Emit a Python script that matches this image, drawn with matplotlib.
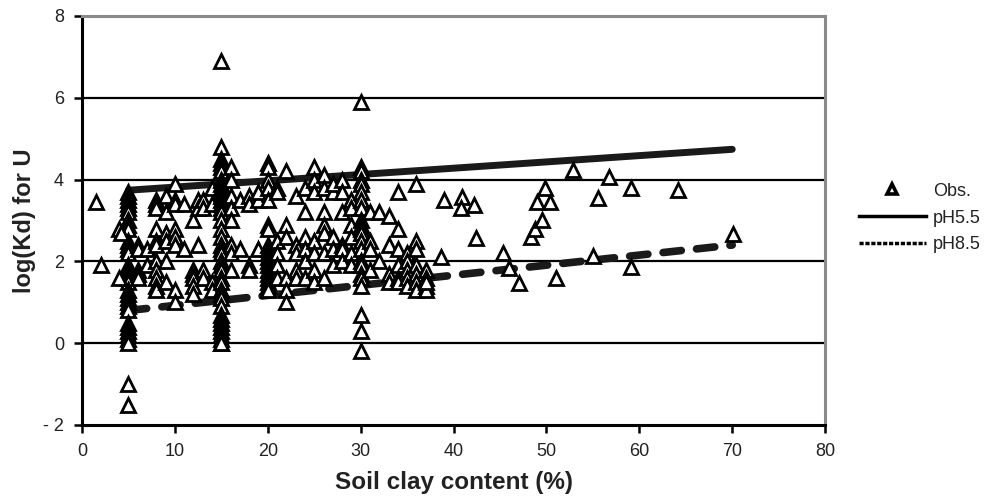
import numpy as np
import matplotlib.pyplot as plt
from matplotlib.lines import Line2D

plt.rcParams['font.family'] = ['Liberation Sans', 'DejaVu Sans']

# observed soil clay content (%) and log(Kd) for U
clay = [1.5, 2,
        5, 5, 5, 5, 5, 5, 5, 5, 5, 5, 5, 5, 5, 5, 5, 5, 5, 5, 5, 5, 5, 5, 5, 5, 5, 5, 5, 5, 5, 5, 5, 5,
        4, 4.2, 4, 6, 6, 6, 6, 6, 7, 7,
        8, 8, 8, 8, 8, 8, 8, 8, 8, 8, 8,
        9, 9, 9, 9, 9, 9,
        10, 10, 10, 10, 10, 10, 10, 10,
        11, 11, 12, 12, 12, 12, 12, 12, 12.5, 12.5, 12.5, 13, 13, 13, 13, 14, 14, 14, 14,
        15, 15, 15, 15, 15, 15, 15, 15, 15, 15, 15, 15, 15, 15, 15, 15, 15, 15, 15, 15,
        15, 15, 15, 15, 15, 15, 15, 15, 15, 15, 15, 15, 15, 15, 15, 15, 15, 15, 15,
        16, 16, 16, 16, 16, 16, 16, 16, 17, 17, 18, 18, 18, 18, 19, 19, 19,
        20, 20, 20, 20, 20, 20, 20, 20, 20, 20, 20, 20, 20, 20, 20, 20, 20, 20, 20,
        21, 21, 21, 21, 21, 21, 22, 22, 22, 22, 22, 22, 23, 23, 23, 23, 23,
        24, 24, 24, 24, 24, 24, 25, 25, 25, 25, 25, 25, 25,
        26, 26, 26, 26, 26, 26, 26, 27, 27, 27, 27, 27, 28, 28, 28, 28, 28, 28,
        29, 29, 29, 29, 29, 29,
        30, 30, 30, 30, 30, 30, 30, 30, 30, 30, 30, 30, 30, 30, 30, 30, 30, 30, 30, 30, 30, 30,
        31, 31, 31, 31, 32, 32, 33, 33, 33, 33, 34, 34, 34, 34, 34, 34,
        35, 35, 35, 35, 35, 36, 36, 36, 36, 36, 36, 36, 37, 37, 37, 37, 37,
        39, 38.6, 40.9, 40.8, 42.2, 42.4, 45.3, 46, 47, 48.3, 48.8, 49.5, 49, 50.4, 49.8,
        51, 52.9, 55, 55.5, 56.7, 59.1, 59.1, 64.2, 70.1]
log_kd = [3.45, 1.9,
          3.7, 3.6, 3.5, 3.4, 3.3, 3.2, 3.0, 2.9, 2.8, 2.5, 2.4, 2.3, 2.2, 1.9, 1.8, 1.7, 1.6, 1.5,
          1.3, 1.2, 1.1, 1.0, 0.9, 0.8, 0.5, 0.4, 0.3, 0.2, 0.1, 0.0, -1.0, -1.5,
          2.8, 2.7, 1.6, 2.4, 2.3, 1.8, 1.7, 1.6, 2.3, 1.9,
          3.5, 3.4, 3.3, 2.8, 2.5, 2.4, 2.0, 1.8, 1.6, 1.4, 1.3,
          3.6, 3.2, 2.7, 2.5, 2.0, 1.5,
          3.9, 3.5, 3.4, 2.8, 2.6, 2.4, 1.3, 1.0,
          3.4, 2.3, 3.0, 1.8, 1.7, 1.6, 1.4, 1.2, 3.5, 3.3, 2.4, 3.5, 3.3, 1.8, 1.6, 3.8, 3.4, 1.5, 1.3,
          6.9, 4.8, 4.5, 4.4, 4.3, 4.2, 4.0, 3.9, 3.8, 3.7, 3.6, 3.5, 3.4, 3.3, 3.2, 3.0, 2.8, 2.6, 2.4, 2.3,
          2.2, 2.0, 1.9, 1.8, 1.6, 1.5, 1.3, 1.2, 1.1, 0.9, 0.7, 0.6, 0.5, 0.4, 0.3, 0.2, 0.1, 0.0, 0.0,
          4.3, 4.0, 3.6, 3.3, 3.0, 2.4, 2.2, 1.8, 3.5, 2.3, 3.6, 3.4, 1.9, 1.8, 3.5, 3.7, 2.3,
          4.4, 4.3, 4.0, 3.8, 3.5, 2.9, 2.8, 2.4, 2.3, 2.2, 2.1, 2.0, 1.9, 1.8, 1.7, 1.6, 1.5, 1.4, 1.3,
          3.8, 3.7, 2.5, 2.2, 1.9, 1.6, 4.2, 2.9, 2.6, 1.6, 1.3, 1.0, 3.6, 2.4, 2.2, 1.8, 1.6,
          3.8, 3.2, 2.6, 2.3, 2.0, 1.6, 4.3, 4.0, 3.7, 2.5, 2.2, 1.8, 1.5,
          4.1, 3.8, 3.2, 2.9, 2.7, 2.2, 1.6, 3.7, 3.9, 2.6, 2.3, 1.9, 4.0, 3.7, 3.2, 2.4, 2.3, 2.0,
          3.5, 3.3, 2.9, 2.6, 2.2, 1.9,
          5.9, 4.3, 4.2, 4.0, 3.9, 3.7, 3.5, 3.3, 3.0, 2.9, 2.8, 2.7, 2.5, 2.3, 2.0, 1.9, 1.7, 1.6, 1.4,
          0.7, 0.3, -0.2,
          3.2, 2.5, 2.3, 1.8, 3.2, 2.0, 3.1, 2.4, 1.7, 1.5, 3.7, 2.8, 2.3, 1.9, 1.6, 1.5,
          2.2, 2.0, 1.8, 1.6, 1.4, 3.9, 2.5, 2.3, 1.9, 1.7, 1.5, 1.3, 1.8, 1.6, 1.4, 1.3, 1.5,
          3.5, 2.1, 3.57, 3.3, 3.37, 2.57, 2.2, 1.83, 1.47, 2.6, 2.8, 3.0, 3.45, 3.45, 3.79,
          1.6, 4.23, 2.13, 3.55, 4.06, 3.79, 1.86, 3.74, 2.66]

# regression lines at pH 5.5 and pH 8.5
line_clay = [5, 70]
ph55 = [3.74, 4.74]
ph85 = [0.80, 2.40]

fig = plt.figure(figsize=(9.89, 5.01), dpi=100)
ax = fig.add_axes([0.0829, 0.1517, 0.7514, 0.8164])

for yv in [0, 2, 4, 6]:
    ax.axhline(yv, color='black', lw=1.6, zorder=1)

ax.plot(line_clay, ph55, color='#1a1a1a', lw=5.0, solid_capstyle='round', zorder=2)
ax.plot(line_clay, ph85, color='#1a1a1a', lw=5.5, dashes=(2.4, 2.0),
        dash_capstyle='round', zorder=2)
ax.plot(clay, log_kd, ls='none', marker='^', ms=10, mfc='white', mec='black',
        mew=2.0, zorder=3)

ax.set_xlim(0, 80)
ax.set_ylim(-2, 8)
ax.set_xticks(np.arange(0, 81, 10))
ax.set_yticks(np.arange(-2, 9, 2))
ax.set_yticklabels(['- 2', '0', '2', '4', '6', '8'])
ax.tick_params(direction='out', length=6, width=1.8, labelsize=13, colors='black',
               labelcolor='#222222', pad=7)

ax.spines['left'].set_linewidth(2.2)
ax.spines['bottom'].set_linewidth(2.2)
ax.spines['top'].set_color('#8a8a8a')
ax.spines['right'].set_color('#8a8a8a')
ax.spines['top'].set_linewidth(2.2)
ax.spines['right'].set_linewidth(2.2)

ax.set_xlabel('Soil clay content (%)', fontsize=17.5, fontweight='bold', color='#222222', labelpad=8)
ax.set_ylabel('log(Kd) for U', fontsize=17, fontweight='bold', color='#222222', labelpad=5)

handles = [
    Line2D([], [], ls='none', marker='^', ms=7, mfc='white', mec='black', mew=2.6),
    Line2D([], [], color='black', lw=2.5),
    Line2D([], [], color='black', lw=2.5, dashes=(1.2, 0.5)),
]
fig.legend(handles, ['Obs.', 'pH5.5', 'pH8.5'], loc='upper left',
           bbox_to_anchor=(0.852, 0.668), frameon=False, fontsize=13,
           handlelength=3.7, handletextpad=0.4, labelspacing=0.55, labelcolor='#222222')

fig.savefig('out.png', dpi=100)
